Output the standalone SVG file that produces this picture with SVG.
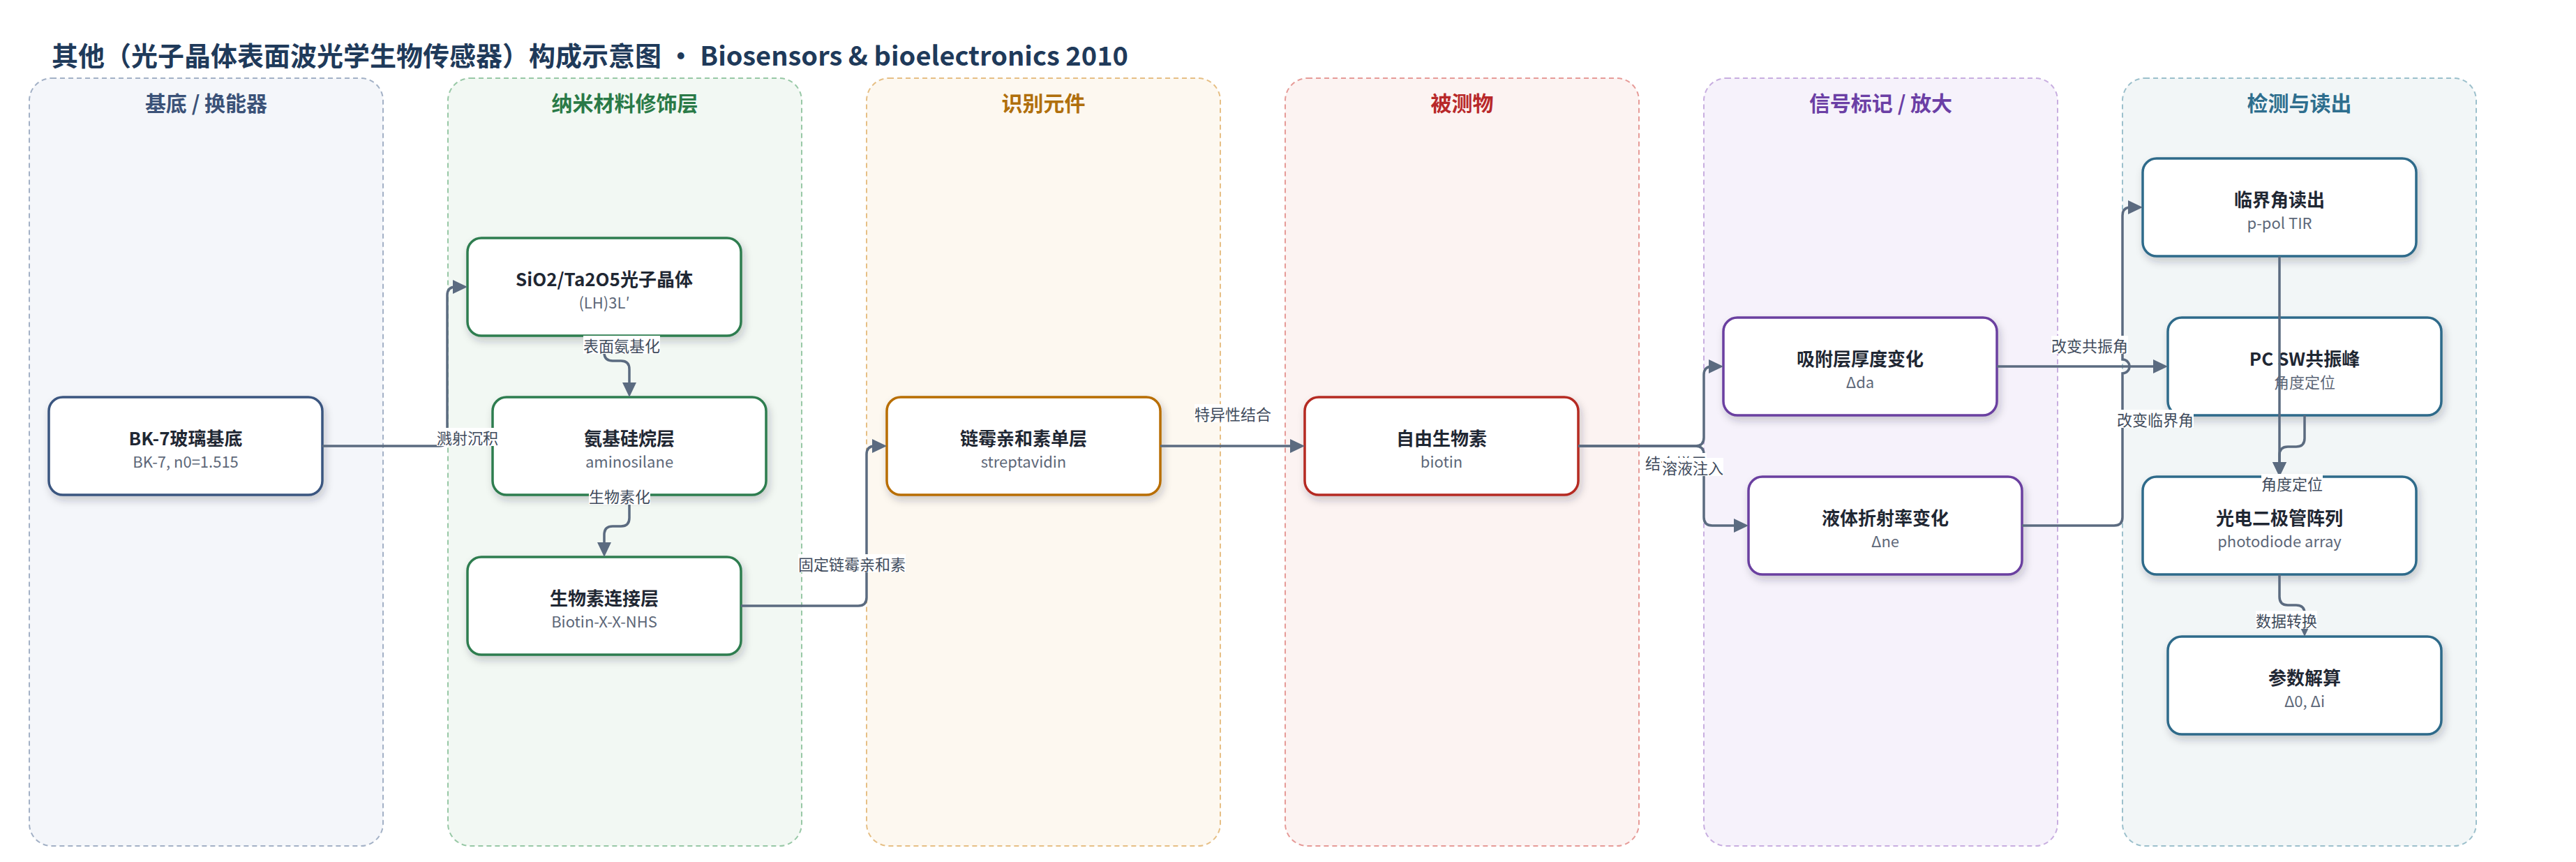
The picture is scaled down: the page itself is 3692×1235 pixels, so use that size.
<svg xmlns="http://www.w3.org/2000/svg" width="3692" height="1235" viewBox="0 0 3692 1235">
<defs>
<style>
text{font-family:"Noto Sans CJK SC","Noto Sans",sans-serif;dominant-baseline:central}
.title{font-size:38px;font-weight:700;fill:#1f3a5a}
.lane{stroke-width:2;stroke-dasharray:7 5}
.lt{font-size:30px;font-weight:700;text-anchor:middle}
.node rect{fill:#fff;stroke-width:3.5;filter:url(#sh)}
.nt{font-size:26px;font-weight:700;fill:#1f2733;text-anchor:middle}
.ns{font-size:22px;fill:#5d6778;text-anchor:middle}
.edge{fill:none;stroke:#5b6b80;stroke-width:3.5;marker-end:url(#ah)}
.el rect{fill:#fff}
.el text{font-size:22px;fill:#3f4b5c;text-anchor:middle}
</style>
<filter id="sh" x="-10%" y="-10%" width="125%" height="135%">
<feDropShadow dx="3" dy="6" stdDeviation="6" flood-color="#1f2937" flood-opacity="0.22"/>
</filter>
<marker id="ah" markerUnits="userSpaceOnUse" viewBox="0 0 21 20" markerWidth="21" markerHeight="20" refX="15" refY="10" orient="auto">
<path d="M0,0 L21,10 L0,20 z" fill="#5b6b80"/>
</marker>
</defs>
<rect width="3692" height="1235" fill="#fff"/>
<text class="title" x="74" y="77">其他（光子晶体表面波光学生物传感器）构成示意图 • Biosensors &amp; bioelectronics 2010</text>

<g id="lanes">
<rect class="lane" x="42" y="112" width="507" height="1100" rx="32" fill="#f4f6fa" stroke="#a3b1c6"/>
<text class="lt" x="295.5" y="146" fill="#3b5278">基底 / 换能器</text>
<rect class="lane" x="642" y="112" width="507" height="1100" rx="32" fill="#f2f8f3" stroke="#98c8a6"/>
<text class="lt" x="895.5" y="146" fill="#2a7a47">纳米材料修饰层</text>
<rect class="lane" x="1242" y="112" width="507" height="1100" rx="32" fill="#fdf8f0" stroke="#e6bf85"/>
<text class="lt" x="1495.5" y="146" fill="#b06f0c">识别元件</text>
<rect class="lane" x="1842" y="112" width="507" height="1100" rx="32" fill="#fcf3f2" stroke="#e69b98"/>
<text class="lt" x="2095.5" y="146" fill="#b8282a">被测物</text>
<rect class="lane" x="2442" y="112" width="507" height="1100" rx="32" fill="#f6f2fb" stroke="#c8aee0"/>
<text class="lt" x="2695.5" y="146" fill="#6b3fa5">信号标记 / 放大</text>
<rect class="lane" x="3042" y="112" width="507" height="1100" rx="32" fill="#f2f6f7" stroke="#9cc0cc"/>
<text class="lt" x="3295.5" y="146" fill="#2e6e8e">检测与读出</text>
</g>

<g id="n-bk7" class="node"><rect x="70" y="569" width="392" height="140" rx="20" stroke="#3b5680"/><text class="nt" x="266" y="626">BK-7玻璃基底</text><text class="ns" x="266" y="660">BK-7, n0=1.515</text></g>
<g id="n-sio2" class="node"><rect x="670" y="341" width="392" height="140" rx="20" stroke="#2e7d4f"/><text class="nt" x="866" y="398">SiO2/Ta2O5光子晶体</text><text class="ns" x="866" y="432">(LH)3L′</text></g>
<g id="n-amino" class="node"><rect x="706" y="569" width="392" height="140" rx="20" stroke="#2e7d4f"/><text class="nt" x="902" y="626">氨基硅烷层</text><text class="ns" x="902" y="660">aminosilane</text></g>
<g id="n-biotinx" class="node"><rect x="670" y="798" width="392" height="140" rx="20" stroke="#2e7d4f"/><text class="nt" x="866" y="855">生物素连接层</text><text class="ns" x="866" y="889">Biotin-X-X-NHS</text></g>
<g id="n-strep" class="node"><rect x="1271" y="569" width="392" height="140" rx="20" stroke="#b86e05"/><text class="nt" x="1467" y="626">链霉亲和素单层</text><text class="ns" x="1467" y="660">streptavidin</text></g>
<g id="n-biotin" class="node"><rect x="1870" y="569" width="392" height="140" rx="20" stroke="#b52a23"/><text class="nt" x="2066" y="626">自由生物素</text><text class="ns" x="2066" y="660">biotin</text></g>
<g id="n-ads" class="node"><rect x="2470" y="455" width="392" height="140" rx="20" stroke="#6b3fa0"/><text class="nt" x="2666" y="512">吸附层厚度变化</text><text class="ns" x="2666" y="546">Δda</text></g>
<g id="n-liq" class="node"><rect x="2506" y="683" width="392" height="140" rx="20" stroke="#6b3fa0"/><text class="nt" x="2702" y="740">液体折射率变化</text><text class="ns" x="2702" y="774">Δne</text></g>
<g id="n-crit" class="node"><rect x="3071" y="227" width="392" height="140" rx="20" stroke="#2e6b8a"/><text class="nt" x="3267" y="284">临界角读出</text><text class="ns" x="3267" y="318">p-pol TIR</text></g>
<g id="n-pcsw" class="node"><rect x="3107" y="455" width="392" height="140" rx="20" stroke="#2e6b8a"/><text class="nt" x="3303" y="512">PC SW共振峰</text><text class="ns" x="3303" y="546">角度定位</text></g>
<g id="n-pd" class="node"><rect x="3071" y="683" width="392" height="140" rx="20" stroke="#2e6b8a"/><text class="nt" x="3267" y="740">光电二极管阵列</text><text class="ns" x="3267" y="774">photodiode array</text></g>
<g id="n-param" class="node"><rect x="3107" y="912" width="392" height="140" rx="20" stroke="#2e6b8a"/><text class="nt" x="3303" y="969">参数解算</text><text class="ns" x="3303" y="1003">Δ0, Δi</text></g>

<g id="connectors">
<path class="edge" d="M462,639 H629 Q641,639 641,627 V423 Q641,411 653,411 H664"/>
<path class="edge" d="M866,481 V505 Q866,517 878,517 H890 Q902,517 902,529 V563"/>
<path class="edge" d="M902,709 V742 Q902,754 890,754 H878 Q866,754 866,766 V792"/>
<path class="edge" d="M1062,868 H1230 Q1242,868 1242,856 V651 Q1242,639 1254,639 H1265"/>
<path class="edge" d="M1663,639 H1864"/>
<path class="edge" d="M2262,639 H2430 Q2442,639 2442,627 V537 Q2442,525 2454,525 H2464"/>
<path class="edge" d="M2262,639 H2430 Q2442,639 2442,651 V741 Q2442,753 2454,753 H2500"/>
<path class="edge" d="M2862,525 H3101"/>
<path class="edge" d="M2898,753 H3030 Q3042,753 3042,741 V535 A10,10 0 0 0 3042,515 V309 Q3042,297 3054,297 H3065"/>
<path class="edge" d="M3267,367 V677"/>
<path class="edge" d="M3303,595 V628 Q3303,640 3291,640 H3279 Q3267,640 3267,652 V677"/>
<path class="edge" d="M3267,823 V855 Q3267,867 3279,867 H3291 Q3303,867 3303,879 V906"/>
</g>

<g id="edge-labels" class="el">
<rect x="626" y="613" width="88" height="26"/><text x="670" y="626">溅射沉积</text>
<rect x="836" y="481" width="110" height="26"/><text x="891" y="494">表面氨基化</text>
<rect x="844" y="697" width="88" height="26"/><text x="888" y="710">生物素化</text>
<rect x="1144" y="794" width="154" height="26"/><text x="1221" y="807">固定链霉亲和素</text>
<rect x="1712" y="579" width="110" height="26"/><text x="1767" y="592">特异性结合</text>
<rect x="2358" y="649" width="88" height="26"/><text x="2402" y="662">结合增层</text>
<rect x="2382" y="656" width="88" height="26"/><text x="2426" y="669">溶液注入</text>
<rect x="2940" y="481" width="110" height="26"/><text x="2995" y="494">改变共振角</text>
<rect x="3034" y="587" width="110" height="26"/><text x="3089" y="600">改变临界角</text>
<rect x="3241" y="679" width="88" height="26"/><text x="3285" y="692">角度定位</text>
<rect x="3233" y="875" width="88" height="26"/><text x="3277" y="888">数据转换</text>
</g>
</svg>
